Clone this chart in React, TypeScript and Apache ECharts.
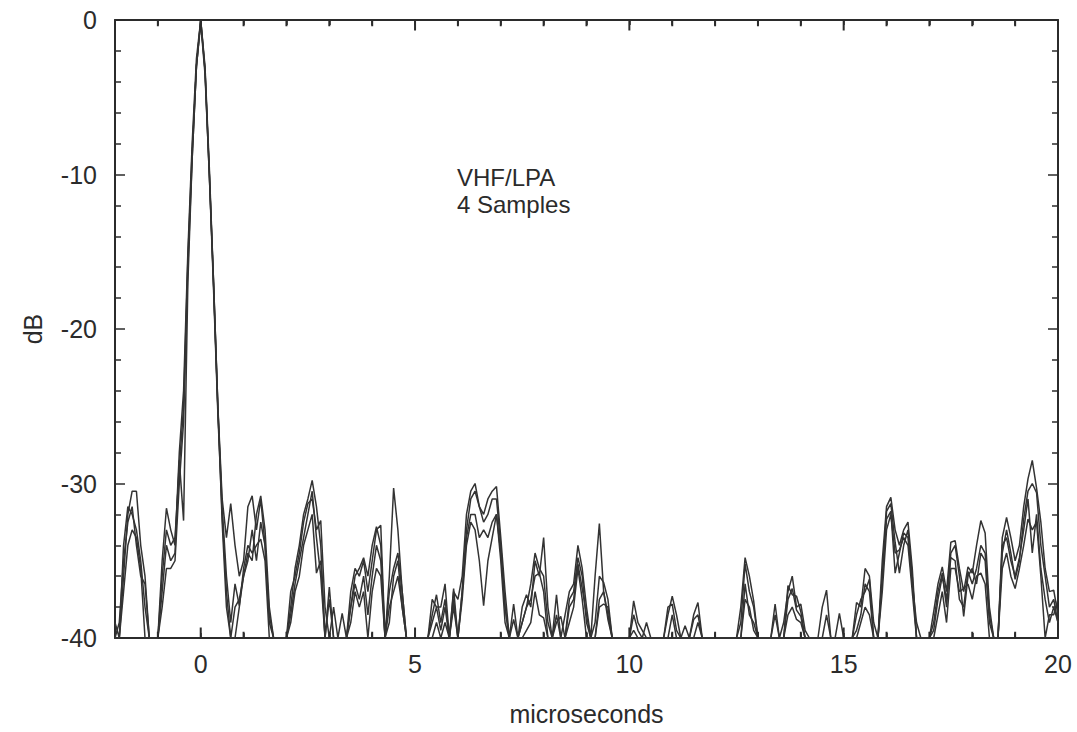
import React, { useEffect, useRef } from "react";
import * as echarts from "echarts";

// x in microseconds, y in dB (clipped at the -40 dB floor)
const sampleA: [number, number][] = [
  [-2.0,-40],[-1.9,-40],[-1.8,-36],[-1.7,-32],[-1.6,-30.5],[-1.5,-30.5],[-1.4,-34],[-1.3,-36],[-1.2,-40],
  [-1.0,-40],[-0.9,-35],[-0.8,-31.6],[-0.7,-33],[-0.6,-34],[-0.5,-28],[-0.4,-24],[-0.3,-15],[-0.2,-8],[-0.1,-2.5],[0,0],
  [0.1,-3],[0.2,-9.5],[0.3,-17],[0.4,-25],[0.5,-31],[0.6,-33.5],[0.7,-31.3],[0.8,-34],[0.9,-36],[1.0,-35],[1.1,-31.5],[1.2,-30.8],[1.3,-33],[1.4,-31],[1.5,-34],[1.6,-39],[1.7,-40],
  [2.0,-40],[2.1,-38],[2.2,-35.5],[2.3,-34],[2.4,-32],[2.5,-31],[2.6,-29.8],[2.7,-31.5],[2.8,-34],[2.9,-40],[3.0,-36.7],[3.1,-40],
  [3.4,-40],[3.5,-37],[3.6,-35.5],[3.7,-36],[3.8,-35],[3.9,-37],[4.0,-35],[4.1,-33],[4.2,-32.7],[4.3,-40],[4.4,-36],[4.5,-30.3],[4.6,-33],[4.7,-37],[4.8,-40],
  [5.3,-40],[5.4,-37.5],[5.5,-38],[5.6,-38],[5.7,-36.5],[5.8,-40],[5.9,-37],[6.0,-37.5],[6.1,-36],[6.2,-32],[6.3,-30.5],[6.4,-30],[6.5,-31.5],[6.6,-32],[6.7,-31],[6.8,-30.5],[6.9,-30.2],[7.0,-33.5],[7.1,-37],[7.2,-40],[7.3,-37.8],[7.4,-40],
  [7.5,-38],[7.6,-37.2],[7.7,-38],[7.8,-35],[7.9,-36],[8.0,-33.5],[8.1,-38],[8.2,-40],[8.3,-37.2],[8.4,-40],[8.5,-38.5],[8.6,-37],[8.7,-36.5],[8.8,-34],[8.9,-35.5],[9.0,-38],[9.1,-40],[9.2,-36],[9.3,-32.6],[9.4,-37],[9.5,-38.5],[9.6,-40],
  [10.0,-40],[10.1,-37.6],[10.2,-39],[10.3,-39.5],[10.4,-40],
  [10.8,-40],[10.9,-38.5],[11.0,-37.3],[11.1,-38.5],[11.2,-40],[11.3,-39.2],[11.4,-40],[11.5,-38.5],[11.6,-37.7],[11.7,-40],
  [12.5,-40],[12.6,-38],[12.7,-34.8],[12.8,-36],[12.9,-37.6],[13.0,-40],
  [13.3,-40],[13.4,-37.8],[13.5,-40],[13.6,-39],[13.7,-37],[13.8,-36],[13.9,-38],[14.0,-37.8],[14.1,-39.5],[14.2,-40],
  [14.4,-40],[14.5,-38],[14.6,-36.9],[14.7,-40],[14.8,-40],[14.9,-38.4],[15.0,-40],
  [15.2,-40],[15.3,-37.7],[15.4,-38],[15.5,-35.5],[15.6,-36],[15.7,-39],[15.8,-40],[15.9,-35],[16.0,-31.5],[16.1,-30.9],[16.2,-33],[16.3,-34],[16.4,-33],[16.5,-32.5],[16.6,-35.5],[16.7,-40],
  [17.0,-40],[17.1,-38.3],[17.2,-36.5],[17.3,-35.4],[17.4,-37],[17.5,-33.8],[17.6,-33.7],[17.7,-35.5],[17.8,-37],[17.9,-35.4],[18.0,-35.8],[18.1,-34],[18.2,-32.4],[18.3,-33.2],[18.4,-38],[18.5,-40],
  [18.6,-40],[18.7,-33.5],[18.8,-32.2],[18.9,-33.5],[19.0,-35],[19.1,-34],[19.2,-31.5],[19.3,-29.7],[19.4,-28.5],[19.5,-30.3],[19.6,-32.5],[19.7,-35.5],[19.8,-37],[19.9,-36.9],[20.0,-38.5],
];

const sampleB: [number, number][] = [
  [-2.0,-39],[-1.9,-40],[-1.8,-34],[-1.7,-31.5],[-1.6,-32],[-1.5,-33],[-1.4,-35],[-1.3,-38],[-1.2,-40],
  [-1.0,-40],[-0.9,-36],[-0.8,-33],[-0.7,-34],[-0.6,-33.5],[-0.5,-29],[-0.4,-25],[-0.3,-15.5],[-0.2,-8.5],[-0.1,-3],[0,0],
  [0.1,-3.3],[0.2,-10],[0.3,-17.5],[0.4,-25.5],[0.5,-32],[0.6,-37],[0.7,-40],[0.8,-38],[0.9,-37.5],[1.0,-36],[1.1,-34.5],[1.2,-35],[1.3,-32],[1.4,-30.8],[1.5,-33],[1.6,-38],[1.7,-40],
  [2.0,-40],[2.1,-37],[2.2,-36],[2.3,-34.5],[2.4,-32.5],[2.5,-31.3],[2.6,-31],[2.7,-33],[2.8,-32.4],[2.9,-38],[3.0,-40],[3.1,-38],[3.2,-40],[3.3,-38.4],[3.4,-40],
  [3.5,-38],[3.6,-36],[3.7,-35.5],[3.8,-34.8],[3.9,-36],[4.0,-34],[4.1,-32.8],[4.2,-34],[4.3,-40],[4.4,-37],[4.5,-35.5],[4.6,-34.5],[4.7,-37],[4.8,-40],
  [5.3,-40],[5.4,-38.5],[5.5,-37.2],[5.6,-39],[5.7,-37.5],[5.8,-40],[5.9,-36.8],[6.0,-40],[6.1,-37],[6.2,-33],[6.3,-31],[6.4,-30.5],[6.5,-31.5],[6.6,-32.5],[6.7,-32],[6.8,-31],[6.9,-31],[7.0,-34],[7.1,-38],[7.2,-40],[7.3,-38.8],[7.4,-40],
  [7.6,-38],[7.7,-36.5],[7.8,-34.5],[7.9,-35.5],[8.0,-36],[8.1,-39],[8.2,-40],[8.3,-38.5],[8.4,-40],[8.5,-40],[8.6,-37.5],[8.7,-37],[8.8,-34.8],[8.9,-36],[9.0,-39],[9.1,-40],[9.2,-39],[9.3,-36],[9.4,-36.4],[9.5,-37.5],[9.6,-40],
  [10.0,-40],[10.1,-38.5],[10.2,-39.5],[10.3,-40],[10.4,-39],[10.5,-40],
  [10.8,-40],[10.9,-38],[11.0,-37.8],[11.1,-39.5],[11.2,-40],
  [11.4,-40],[11.5,-38.8],[11.6,-38.5],[11.7,-40],
  [12.5,-40],[12.6,-39],[12.7,-35.2],[12.8,-37],[12.9,-38],[13.0,-40],
  [13.3,-40],[13.4,-38.5],[13.5,-40],[13.6,-40],[13.7,-36.6],[13.8,-37.2],[13.9,-37.3],[14.0,-38.3],[14.1,-40],
  [14.5,-40],[14.6,-38.5],[14.7,-40],
  [15.2,-40],[15.3,-38.5],[15.4,-37.5],[15.5,-37],[15.6,-36.2],[15.7,-40],[15.8,-40],[15.9,-36],[16.0,-31.8],[16.1,-31.3],[16.2,-33.8],[16.3,-35.8],[16.4,-34],[16.5,-33],[16.6,-36],[16.7,-40],
  [17.0,-40],[17.1,-39],[17.2,-37],[17.3,-35.8],[17.4,-38],[17.5,-34.5],[17.6,-34],[17.7,-36],[17.8,-38.6],[17.9,-36],[18.0,-35.5],[18.1,-36.5],[18.2,-34.5],[18.3,-35],[18.4,-39],[18.5,-40],
  [18.6,-40],[18.7,-34.5],[18.8,-33],[18.9,-34.5],[19.0,-36.2],[19.1,-35],[19.2,-32.3],[19.3,-30.5],[19.4,-30],[19.5,-30.6],[19.6,-34],[19.7,-36],[19.8,-38],[19.9,-37.5],[20.0,-39],
];

const sampleC: [number, number][] = [
  [-2.0,-40],[-1.9,-40],[-1.8,-37],[-1.7,-34],[-1.6,-33],[-1.5,-33.5],[-1.4,-35.5],[-1.3,-40],
  [-1.0,-40],[-0.9,-38],[-0.8,-35.5],[-0.7,-35.5],[-0.6,-35],[-0.5,-30],[-0.4,-26],[-0.3,-16],[-0.2,-9],[-0.1,-3],[0,-0.2],
  [0.1,-3.5],[0.2,-10],[0.3,-17],[0.4,-25],[0.5,-32.5],[0.6,-38],[0.7,-40],[0.8,-40],[0.9,-38],[1.0,-35.5],[1.1,-34],[1.2,-34.5],[1.3,-34],[1.4,-33.6],[1.5,-35],[1.6,-40],
  [2.0,-40],[2.1,-39],[2.2,-37],[2.3,-36],[2.4,-34],[2.5,-33],[2.6,-32],[2.7,-35.8],[2.8,-35],[2.9,-40],
  [3.4,-40],[3.5,-39],[3.6,-37],[3.7,-38],[3.8,-37],[3.9,-40],[4.0,-37],[4.1,-35.5],[4.2,-36],[4.3,-40],[4.4,-38],[4.5,-37],[4.6,-36],[4.7,-38],[4.8,-40],
  [5.4,-40],[5.5,-39],[5.6,-40],[5.7,-39],[5.8,-40],[5.9,-38],[6.0,-40],[6.1,-37.5],[6.2,-34],[6.3,-32.5],[6.4,-33],[6.5,-35],[6.6,-37.9],[6.7,-35],[6.8,-33.5],[6.9,-32],[7.0,-35],[7.1,-39],[7.2,-40],
  [7.5,-40],[7.6,-39.5],[7.7,-39],[7.8,-37],[7.9,-38.5],[8.0,-38.7],[8.1,-40],
  [8.5,-40],[8.6,-39],[8.7,-38],[8.8,-35.5],[8.9,-37.5],[9.0,-40],
  [9.2,-40],[9.3,-37.5],[9.4,-37],[9.5,-38.8],[9.6,-40],
  [12.6,-40],[12.7,-36.5],[12.8,-38.5],[12.9,-39],[13.0,-40],
  [13.6,-40],[13.7,-38.5],[13.8,-38],[13.9,-38.8],[14.0,-39],[14.1,-40],
  [15.3,-40],[15.4,-39],[15.5,-38],[15.6,-38.5],[15.7,-40],[15.8,-40],[15.9,-37],[16.0,-33],[16.1,-32],[16.2,-34.5],[16.3,-34.3],[16.4,-33.5],[16.5,-34],[16.6,-37],[16.7,-40],
  [17.1,-40],[17.2,-38.5],[17.3,-37],[17.4,-39],[17.5,-35.5],[17.6,-35.5],[17.7,-37],[17.8,-36.8],[17.9,-36.5],[18.0,-37.5],[18.1,-36],[18.2,-35.8],[18.3,-36.5],[18.4,-40],
  [18.6,-40],[18.7,-35.5],[18.8,-34.5],[18.9,-36],[19.0,-36.8],[19.1,-35.5],[19.2,-34],[19.3,-32.3],[19.4,-33],[19.5,-32.5],[19.6,-36],[19.7,-40],[19.8,-38.5],[19.9,-38.5],[20.0,-37.5],
];

const sampleD: [number, number][] = [
  [-2.0,-40],[-1.9,-39],[-1.8,-35],[-1.7,-32.5],[-1.6,-31.5],[-1.5,-34],[-1.4,-36],[-1.3,-36.5],[-1.2,-40],
  [-1.0,-40],[-0.9,-37],[-0.8,-34],[-0.7,-35],[-0.6,-34.5],[-0.5,-28.5],[-0.4,-32.4],[-0.3,-17],[-0.2,-9],[-0.1,-3],[0,0],
  [0.1,-3.2],[0.2,-9.8],[0.3,-17.2],[0.4,-25.2],[0.5,-31.5],[0.6,-36],[0.7,-39],[0.8,-36.5],[0.9,-37.9],[1.0,-36],[1.1,-35],[1.2,-33],[1.3,-35],[1.4,-32.5],[1.5,-34],[1.6,-38.5],[1.7,-40],
  [2.0,-40],[2.1,-38.5],[2.2,-36.5],[2.3,-35],[2.4,-33.5],[2.5,-32],[2.6,-30.5],[2.7,-33.5],[2.8,-36],[2.9,-40],[3.0,-37.5],[3.1,-40],
  [3.4,-40],[3.5,-38],[3.6,-36.5],[3.7,-37.5],[3.8,-36],[3.9,-38.5],[4.0,-36],[4.1,-34],[4.2,-35],[4.3,-40],[4.4,-39],[4.5,-36],[4.6,-35],[4.7,-38],[4.8,-40],
  [5.3,-40],[5.4,-39],[5.5,-38],[5.6,-39.5],[5.7,-38],[5.8,-40],[5.9,-37.5],[6.0,-40],[6.1,-37],[6.2,-33.5],[6.3,-32],[6.4,-32],[6.5,-33.5],[6.6,-33],[6.7,-33.5],[6.8,-32.5],[6.9,-32],[7.0,-34.5],[7.1,-38],[7.2,-40],
  [7.4,-40],[7.5,-39],[7.6,-38],[7.7,-37.5],[7.8,-36],[7.9,-35.8],[8.0,-37],[8.1,-40],[8.2,-40],[8.3,-39],[8.4,-38.6],[8.5,-40],[8.6,-38],[8.7,-37.5],[8.8,-35.2],[8.9,-36.8],[9.0,-38.5],[9.1,-40],[9.2,-40],[9.3,-38],[9.4,-37.8],[9.5,-38],[9.6,-40],
  [10.0,-40],[10.1,-39.5],[10.2,-40],
  [10.9,-40],[11.0,-38.5],[11.1,-40],
  [11.5,-40],[11.6,-39],[11.7,-40],
  [12.6,-40],[12.7,-37.5],[12.8,-38],[12.9,-39.5],[13.0,-40],
  [13.6,-40],[13.7,-37.5],[13.8,-36.8],[13.9,-38.2],[14.0,-38.6],[14.1,-40],
  [15.2,-40],[15.3,-39.5],[15.4,-38.5],[15.5,-36.5],[15.6,-37],[15.7,-40],[15.8,-40],[15.9,-36],[16.0,-32.3],[16.1,-31.8],[16.2,-35.8],[16.3,-34.5],[16.4,-33.2],[16.5,-33.5],[16.6,-36.5],[16.7,-39],[16.8,-40],
  [17.0,-40],[17.1,-39.5],[17.2,-37.5],[17.3,-36],[17.4,-37.5],[17.5,-34.8],[17.6,-35],[17.7,-37.5],[17.8,-38],[17.9,-35.7],[18.0,-36.5],[18.1,-35.5],[18.2,-34],[18.3,-34.5],[18.4,-38.5],[18.5,-40],
  [18.6,-40],[18.7,-34],[18.8,-33.5],[18.9,-35],[19.0,-36],[19.1,-34.8],[19.2,-33],[19.3,-31],[19.4,-34.5],[19.5,-32],[19.6,-35.5],[19.7,-37.5],[19.8,-39],[19.9,-38],[20.0,-39],
];

const samples = [sampleA, sampleB, sampleC, sampleD];

// x-axis tick marks (microseconds): labelled majors and unlabelled minors
const xMajorTicks = [0, 5, 10, 15];
const xMinorTicks = [-1, 1, 2, 3, 4, 6, 7, 8, 9, 11, 12, 13, 14, 16, 17, 18, 19];
const xLabelValues = [0, 5, 10, 15, 20];
const annotation = ["VHF/LPA", "4 Samples"];

const FONT = "'Liberation Sans', Arial, Helvetica, sans-serif";
const INK = "#2b2b2b";
const Y_BOTTOM = -40;
const Y_TOP = 0;
const MAJOR_TICK_DB = 0.68; // tick length expressed in dB along the frame
const MINOR_TICK_DB = 0.4;

export default function App() {
  const ref = useRef<HTMLDivElement>(null);
  useEffect(() => {
    if (!ref.current) return;
    const chart = echarts.init(ref.current, undefined, { renderer: "svg" });
    const tickStyle = { color: INK, width: 1.5 };
    const lineStyle = { color: INK, width: 2 };
    const labelFmt = (v: number) => (xLabelValues.includes(v) ? String(v) : "");
    const tickSegments = (values: number[], len: number) =>
      values.flatMap((v) => [
        [v, Y_BOTTOM],
        [v, Y_BOTTOM + len],
        [v, null],
        [v, Y_TOP],
        [v, Y_TOP - len],
        [v, null],
      ]);
    const tickData = [...tickSegments(xMajorTicks, MAJOR_TICK_DB), ...tickSegments(xMinorTicks, MINOR_TICK_DB)];
    chart.setOption({
      animation: false,
      backgroundColor: "#ffffff",
      grid: { left: 115, right: 19, top: 20, bottom: 94, containLabel: false },
      xAxis: [
        {
          type: "value",
          position: "bottom",
          min: -2,
          max: 20,
          interval: 1,
          splitLine: { show: false },
          axisLine: { show: true, onZero: false, lineStyle },
          axisTick: { show: true, inside: true, length: 5, lineStyle: tickStyle },
          axisLabel: { formatter: labelFmt, fontSize: 25, color: INK, margin: 13, fontFamily: FONT },
          name: "microseconds",
          nameLocation: "middle",
          nameGap: 63,
          nameTextStyle: { fontSize: 25, color: INK, fontFamily: FONT },
        },
        {
          type: "value",
          position: "top",
          min: -2,
          max: 20,
          interval: 1,
          splitLine: { show: false },
          axisLine: { show: true, onZero: false, lineStyle },
          axisTick: { show: true, inside: true, length: 5, lineStyle: tickStyle },
          axisLabel: { show: false },
        },
      ],
      yAxis: [
        {
          type: "value",
          position: "left",
          min: -40,
          max: 0,
          interval: 10,
          axisLine: { show: true, onZero: false, lineStyle },
          axisTick: { show: true, inside: true, length: 10, lineStyle: tickStyle },
          minorTick: { show: true, splitNumber: 5, length: 6, lineStyle: tickStyle },
          axisLabel: { fontSize: 25, color: INK, margin: 18, fontFamily: FONT },
          splitLine: { show: false },
          minorSplitLine: { show: false },
          name: "dB",
          nameLocation: "middle",
          nameGap: 70,
          nameTextStyle: { fontSize: 25, color: INK, fontFamily: FONT },
        },
        {
          type: "value",
          position: "right",
          min: -40,
          max: 0,
          interval: 10,
          axisLine: { show: true, onZero: false, lineStyle },
          axisTick: { show: true, inside: true, length: 10, lineStyle: tickStyle },
          minorTick: { show: true, splitNumber: 5, length: 6, lineStyle: tickStyle },
          axisLabel: { show: false },
          splitLine: { show: false },
          minorSplitLine: { show: false },
        },
      ],
      graphic: [
        {
          type: "text",
          left: 457,
          top: 164,
          style: {
            text: annotation.join("\n"),
            fontSize: 24,
            lineHeight: 27,
            fill: INK,
            fontFamily: FONT,
          },
        },
      ],
      series: [
        ...samples.map((d, i) => ({
          type: "line",
          name: `Sample ${i + 1}`,
          data: d,
          xAxisIndex: 0,
          yAxisIndex: 0,
          showSymbol: false,
          clip: true,
          lineStyle: { color: "#333333", width: 1.5 },
          z: 3,
        })),
        {
          type: "line",
          name: "x ticks",
          data: tickData,
          xAxisIndex: 0,
          yAxisIndex: 0,
          showSymbol: false,
          connectNulls: false,
          silent: true,
          clip: false,
          lineStyle: { color: INK, width: 2 },
          z: 5,
        },
      ],
    });
    return () => chart.dispose();
  }, []);
  return (
    <div
      ref={ref}
      style={{ position: "fixed", left: 0, top: 0, width: 1077, height: 732 }}
    />
  );
}
